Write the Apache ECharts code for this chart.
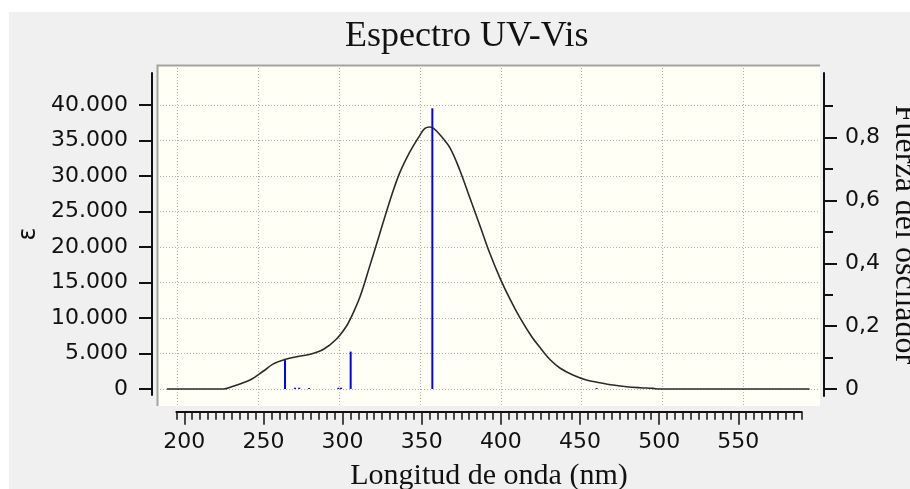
<!DOCTYPE html>
<html>
<head>
<meta charset="utf-8">
<script src="https://cdn.jsdelivr.net/npm/echarts@6/dist/echarts.min.js"></script>
<style>
html, body { margin: 0; padding: 0; background: #fff; }
#chart { width: 910px; height: 489px; }
</style>
</head>
<body>
<div id="chart"></div>
<script>
// curva del espectro (nm, epsilon)
const waveNm = [189, 225, 229, 241.5, 250, 256, 263.5, 271, 279.5, 288, 296, 302, 305, 311, 317, 323.5, 330, 336, 342.5, 349, 352, 355, 357.5, 361.5, 368, 374, 380.5, 387, 393, 399.5, 406, 412, 419.5, 424.5, 431, 437.5, 445.5, 454, 462.5, 471, 479.5, 488, 496, 500, 595];
const epsilon = [0, 0, 240, 1270, 2535, 3500, 4150, 4550, 4890, 5590, 7000, 8700, 9900, 13000, 17200, 21900, 26600, 30400, 33400, 35800, 36700, 36900, 36700, 35800, 33900, 30850, 26860, 22860, 19110, 15590, 12540, 10050, 7350, 5900, 4150, 2920, 1970, 1270, 890, 560, 320, 180, 90, 0, 0];

// transiciones (nm, fuerza del oscilador)
const stickNm = [263.6, 269.9, 272.6, 278.8, 297.3, 299.0, 305.1, 356.7, 460.5];
const stickF = [0.092, 0.004, 0.004, 0.003, 0.004, 0.004, 0.119, 0.893, 0.003];

// ejes
const nmTicks = { min: 200, max: 550, step: 50, minorMin: 195, minorMax: 590, minorStep: 5 };
const epsTicks = { max: 40000, step: 5000 };
const fTicks = { max: 0.8, step: 0.2 };

const black = '#111';
const sans = 'DejaVu Sans';
const serif = 'Liberation Serif';
const dotted = { color: '#b0b0b0', width: 1, type: [1, 2] };

let myChart = echarts.init(document.getElementById('chart'));

function dummy(gridIndex) {
  return { gridIndex: gridIndex, type: 'value', min: 0, max: 1, show: false };
}

function epsLabel(v) {
  return String(v).replace(/\B(?=(\d{3})+(?!\d))/g, '.');
}
function fLabel(v) {
  return v === 0 ? '0' : v.toFixed(1).replace('.', ',');
}

const g = { outerBoundsMode: 'none', containLabel: false };

myChart.setOption({
  animation: false,
  backgroundColor: '#f0f0f0',
  title: {
    text: 'Espectro UV-Vis',
    left: 340,
    top: 14,
    textStyle: { fontFamily: serif, fontSize: 36, fontWeight: 'normal', color: black }
  },
  graphic: [
    { type: 'rect', shape: { x: 0, y: 0, width: 910, height: 12 }, style: { fill: '#fff' }, silent: true },
    { type: 'rect', shape: { x: 0, y: 0, width: 9, height: 489 }, style: { fill: '#fff' }, silent: true },
    { type: 'polyline', z: 10, shape: { points: [[157.5, 406], [157.5, 65.5], [820, 65.5]] },
      style: { stroke: '#a3a3a3', lineWidth: 2, fill: null }, silent: true }
  ],
  grid: [
    Object.assign({ left: 157, right: 90, top: 65, bottom: 83, show: true, backgroundColor: '#fffff5', borderWidth: 0 }, g), // 0 datos
    Object.assign({ left: 157, right: 90, top: 105, bottom: 100 }, g),   // 1 lineas horizontales
    Object.assign({ left: 177.7, right: 166.8, top: 65, bottom: 83 }, g), // 2 lineas verticales
    Object.assign({ left: 152, width: 10, top: 73, bottom: 94 }, g),     // 3 eje izq linea
    Object.assign({ left: 152, width: 10, top: 105, bottom: 100 }, g),   // 4 eje izq marcas
    Object.assign({ right: 86, width: 10, top: 73, bottom: 93 }, g),     // 5 eje der linea
    Object.assign({ right: 86, width: 10, top: 137.6, bottom: 100 }, g), // 6 eje der mayores
    Object.assign({ right: 86, width: 10, top: 106.2, bottom: 131.4 }, g), // 7 eje der menores
    Object.assign({ left: 176.4, right: 108.4, top: 300, bottom: 77.3 }, g), // 8 eje x menores
    Object.assign({ left: 184.3, right: 171.7, top: 300, bottom: 77.3 }, g)  // 9 eje x mayores
  ],
  xAxis: [
    { gridIndex: 0, type: 'value', min: 182.75, max: 601.6, show: false },
    dummy(1),
    {
      gridIndex: 2, type: 'value', min: 0, max: 350, interval: 50,
      axisLine: { show: false }, axisTick: { show: false }, axisLabel: { show: false },
      splitLine: { show: true, lineStyle: dotted }
    },
    dummy(3), dummy(4), dummy(5), dummy(6), dummy(7),
    {
      gridIndex: 8, type: 'value', min: nmTicks.minorMin, max: nmTicks.minorMax, interval: nmTicks.minorStep,
      axisLine: { onZero: false, lineStyle: { color: black, width: 2 } },
      axisTick: { length: 8, lineStyle: { color: black, width: 1.5 } },
      axisLabel: { show: false },
      splitLine: { show: false },
      name: 'Longitud de onda (nm)',
      nameLocation: 'middle',
      nameGap: 49,
      nameTextStyle: { fontFamily: serif, fontSize: 30, color: black }
    },
    {
      gridIndex: 9, type: 'value', min: nmTicks.min, max: nmTicks.max, interval: nmTicks.step,
      axisLine: { show: false, onZero: false },
      axisTick: { length: 13, lineStyle: { color: black, width: 1.5 } },
      axisLabel: { margin: 20, fontFamily: sans, fontSize: 22, color: black },
      splitLine: { show: false }
    }
  ],
  yAxis: [
    { gridIndex: 0, type: 'value', min: -2394, max: 45634, show: false },
    { gridIndex: 0, type: 'value', min: -0.0541, max: 1.031, show: false },
    {
      gridIndex: 1, type: 'value', min: 0, max: epsTicks.max, interval: epsTicks.step,
      axisLine: { show: false }, axisTick: { show: false }, axisLabel: { show: false },
      splitLine: { show: true, lineStyle: dotted }
    },
    dummy(2),
    {
      gridIndex: 3, type: 'value', min: 0, max: 1,
      axisLine: { show: true, onZero: false, lineStyle: { color: black, width: 2 } },
      axisTick: { show: false }, axisLabel: { show: false }, splitLine: { show: false },
      name: 'ε',
      nameLocation: 'middle',
      nameGap: 111,
      nameTextStyle: { fontFamily: sans, fontSize: 24, color: black }
    },
    {
      gridIndex: 4, type: 'value', min: 0, max: epsTicks.max, interval: epsTicks.step,
      axisLine: { show: false, onZero: false },
      axisTick: { length: 13, lineStyle: { color: black, width: 2 } },
      axisLabel: { margin: 24, fontFamily: sans, fontSize: 22, color: black, formatter: epsLabel },
      splitLine: { show: false }
    },
    {
      gridIndex: 5, type: 'value', position: 'right', min: 0, max: 1,
      axisLine: { show: true, onZero: false, lineStyle: { color: black, width: 2 } },
      axisTick: { show: false }, axisLabel: { show: false }, splitLine: { show: false },
      name: 'Fuerza del oscilador',
      nameLocation: 'middle',
      nameRotate: -90,
      nameGap: 64,
      nameTextStyle: { fontFamily: serif, fontSize: 32, color: black }
    },
    {
      gridIndex: 6, type: 'value', position: 'right', min: 0, max: fTicks.max, interval: fTicks.step,
      axisLine: { show: false, onZero: false },
      axisTick: { length: 13, lineStyle: { color: black, width: 2 } },
      axisLabel: { margin: 21, fontFamily: sans, fontSize: 22, color: black, formatter: fLabel },
      splitLine: { show: false }
    },
    {
      gridIndex: 7, type: 'value', position: 'right', min: 0.1, max: 0.9, interval: fTicks.step,
      axisLine: { show: false, onZero: false },
      axisTick: { length: 9, lineStyle: { color: black, width: 2 } },
      axisLabel: { show: false },
      splitLine: { show: false }
    },
    dummy(8),
    dummy(9)
  ],
  series: [
    {
      type: 'line',
      xAxisIndex: 0,
      yAxisIndex: 0,
      data: waveNm.map((x, i) => [x, epsilon[i]]),
      symbol: 'none',
      smooth: 0.35,
      lineStyle: { color: '#2a2a2a', width: 1.6 },
      z: 2
    },
    {
      type: 'bar',
      xAxisIndex: 0,
      yAxisIndex: 1,
      data: stickNm.map((x, i) => [x, stickF[i]]),
      barWidth: 2,
      itemStyle: { color: '#0000ff' },
      z: 3
    }
  ]
});
</script>
</body>
</html>
